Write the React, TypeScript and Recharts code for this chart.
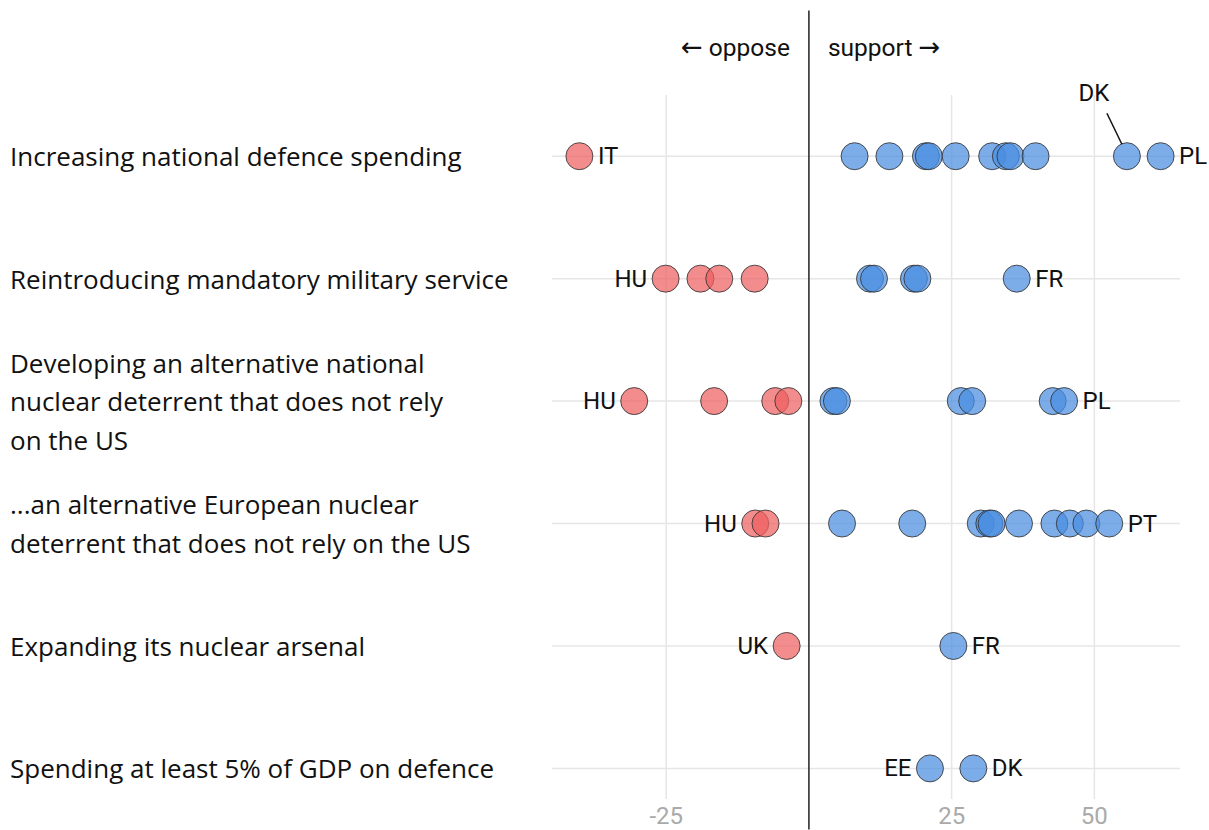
import { CartesianGrid, ReferenceLine, Scatter, ScatterChart, XAxis, YAxis } from "recharts";

// survey questions, top to bottom (index = row)
const questions: string[][] = [
  ["Increasing national defence spending"],
  ["Reintroducing mandatory military service"],
  ["Developing an alternative national", "nuclear deterrent that does not rely", "on the US"],
  ["...an alternative European nuclear", "deterrent that does not rely on the US"],
  ["Expanding its nuclear arsenal"],
  ["Spending at least 5% of GDP on defence"],
];

type Pt = { x: number; y: number; label?: string; side?: "left" | "right" | "top" };

// net support (support minus oppose), per country
const opposeValues: Pt[] = [
  { x: -40.2, y: 0, label: "IT", side: "right" },
  { x: -25.1, y: 1, label: "HU", side: "left" },
  { x: -19.0, y: 1 },
  { x: -15.7, y: 1 },
  { x: -9.5, y: 1 },
  { x: -30.6, y: 2, label: "HU", side: "left" },
  { x: -16.6, y: 2 },
  { x: -5.9, y: 2 },
  { x: -3.6, y: 2 },
  { x: -9.4, y: 3, label: "HU", side: "left" },
  { x: -7.6, y: 3 },
  { x: -3.9, y: 4, label: "UK", side: "left" },
];

const supportValues: Pt[] = [
  { x: 8.0, y: 0 },
  { x: 14.1, y: 0 },
  { x: 20.5, y: 0 },
  { x: 21.0, y: 0 },
  { x: 25.7, y: 0 },
  { x: 32.1, y: 0 },
  { x: 34.5, y: 0 },
  { x: 35.3, y: 0 },
  { x: 39.7, y: 0 },
  { x: 55.7, y: 0, label: "DK", side: "top" },
  { x: 61.6, y: 0, label: "PL", side: "right" },
  { x: 10.7, y: 1 },
  { x: 11.4, y: 1 },
  { x: 18.4, y: 1 },
  { x: 19.0, y: 1 },
  { x: 36.4, y: 1, label: "FR", side: "right" },
  { x: 4.3, y: 2 },
  { x: 4.9, y: 2 },
  { x: 26.6, y: 2 },
  { x: 28.6, y: 2 },
  { x: 42.7, y: 2 },
  { x: 44.7, y: 2, label: "PL", side: "right" },
  { x: 5.8, y: 3 },
  { x: 18.1, y: 3 },
  { x: 30.1, y: 3 },
  { x: 31.6, y: 3 },
  { x: 32.0, y: 3 },
  { x: 36.8, y: 3 },
  { x: 43.0, y: 3 },
  { x: 45.7, y: 3 },
  { x: 48.6, y: 3 },
  { x: 52.6, y: 3, label: "PT", side: "right" },
  { x: 25.3, y: 4, label: "FR", side: "right" },
  { x: 21.2, y: 5, label: "EE", side: "left" },
  { x: 28.8, y: 5, label: "DK", side: "right" },
];

const xTicks = [-25, 25, 50];
const rowTicks = [0, 1, 2, 3, 4, 5];

const labelFont = "'Open Sans', Lato, sans-serif";
const smallFont = "Roboto, 'Noto Sans', sans-serif";
const arrowFont = "'DejaVu Sans', sans-serif";

function dot(fill: string) {
  return (props: any) => {
    const { cx, cy, payload } = props;
    const r = 13.5;
    let label = null;
    const common = { fontSize: 24, fontFamily: smallFont, fill: "#111", dominantBaseline: "central" as const };
    if (payload.label && payload.side === "right") {
      label = (
        <text x={cx + r + 5} y={cy} {...common}>
          {payload.label}
        </text>
      );
    } else if (payload.label && payload.side === "left") {
      label = (
        <text x={cx - r - 5} y={cy} textAnchor="end" {...common}>
          {payload.label}
        </text>
      );
    } else if (payload.label && payload.side === "top") {
      label = (
        <g>
          <line x1={cx - 20} y1={cy - 43} x2={cx - 5} y2={cy - 12} stroke="#111" strokeWidth={1.5} />
          <text x={cx - 33} y={cy - 63} textAnchor="middle" {...common}>
            {payload.label}
          </text>
        </g>
      );
    }
    return (
      <g>
        <circle cx={cx} cy={cy} r={r} fill={fill} fillOpacity={0.72} stroke="#333" strokeOpacity={0.85} strokeWidth={1} />
        {label}
      </g>
    );
  };
}

function QuestionTick(props: any) {
  const { y, payload } = props;
  const lines = questions[payload.value] ?? [];
  const lh = 38.5;
  const start = y - ((lines.length - 1) * lh) / 2;
  return (
    <g fontSize={26} fontFamily={labelFont} fill="#111">
      {lines.map((l, i) => (
        <text key={i} x={10} y={start + i * lh} dominantBaseline="central">
          {l}
        </text>
      ))}
    </g>
  );
}

function Header(props: any) {
  const { viewBox } = props;
  const x = viewBox.x;
  return (
    <g fontSize={24.5} fontFamily={smallFont} fill="#111">
      <text x={x - 19} y={47} textAnchor="end" dominantBaseline="central">
        <tspan fontFamily={arrowFont} fontSize={26}>←</tspan> oppose
      </text>
      <text x={x + 19} y={47} textAnchor="start" dominantBaseline="central">
        support <tspan fontFamily={arrowFont} fontSize={26}>→</tspan>
      </text>
    </g>
  );
}

export default function App() {
  return (
    <div style={{ position: "absolute", left: 0, top: 0, width: 1209, height: 830, background: "#fff" }}>
      <ScatterChart width={1209} height={830} margin={{ top: 95, right: 29, bottom: 0, left: 10 }}>
        <CartesianGrid stroke="#e6e6e6" strokeWidth={1.5} horizontalValues={rowTicks} verticalValues={xTicks} />
        <XAxis
          type="number"
          dataKey="x"
          domain={[-45, 65]}
          ticks={xTicks}
          axisLine={false}
          tickLine={false}
          height={31}
          tick={{ fill: "#aaa", fontSize: 24, fontFamily: smallFont }}
        />
        <YAxis
          type="number"
          dataKey="y"
          domain={[-0.5, 5.25]}
          reversed
          ticks={rowTicks}
          axisLine={false}
          tickLine={false}
          width={542}
          tick={<QuestionTick />}
        />
        <ReferenceLine
          segment={[
            { x: 0, y: -1.19 },
            { x: 0, y: 5.5 },
          ]}
          ifOverflow="visible"
          stroke="#222"
          strokeWidth={1.5}
          label={<Header />}
        />
        <Scatter data={opposeValues} fill="#ef5f5f" shape={dot("#ef5f5f")} isAnimationActive={false} />
        <Scatter data={supportValues} fill="#4a8ee0" shape={dot("#4a8ee0")} isAnimationActive={false} />
      </ScatterChart>
    </div>
  );
}
